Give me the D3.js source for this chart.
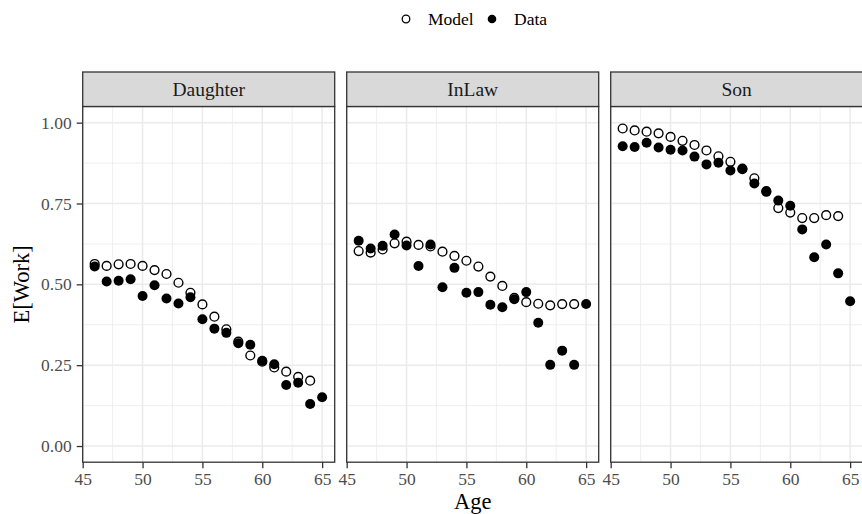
<!DOCTYPE html>
<html>
<head>
<meta charset="utf-8">
<script src="https://cdn.jsdelivr.net/npm/d3@7"></script>
<style>
  html, body { margin: 0; padding: 0; background: #ffffff; }
  svg { display: block; font-family: "Liberation Serif", "DejaVu Serif", serif; }
</style>
</head>
<body>
<svg id="chart" width="862" height="514"></svg>
<script>
// ---------------- data ----------------
const panels = ["Daughter", "InLaw", "Son"];
const ages = [46, 47, 48, 49, 50, 51, 52, 53, 54, 55, 56, 57, 58, 59, 60, 61, 62, 63, 64, 65];

const modelDaughter = [0.563, 0.557, 0.562, 0.563, 0.557, 0.544, 0.532, 0.505, 0.474, 0.438, 0.400, 0.361, 0.323, 0.280, 0.261, 0.243, 0.230, 0.214, 0.202, null];
const dataDaughter  = [0.555, 0.509, 0.511, 0.516, 0.464, 0.497, 0.456, 0.441, 0.460, 0.392, 0.363, 0.350, 0.318, 0.313, 0.264, 0.253, 0.189, 0.196, 0.130, 0.151];

const modelInLaw = [0.603, 0.598, 0.608, 0.627, 0.632, 0.622, 0.617, 0.601, 0.588, 0.573, 0.555, 0.524, 0.495, 0.458, 0.445, 0.440, 0.435, 0.439, 0.439, null];
const dataInLaw  = [0.635, 0.611, 0.619, 0.654, 0.620, 0.557, 0.623, 0.491, 0.551, 0.474, 0.476, 0.437, 0.429, 0.454, 0.476, 0.381, 0.251, 0.295, 0.251, 0.439];

const modelSon = [0.982, 0.976, 0.972, 0.967, 0.956, 0.944, 0.931, 0.914, 0.896, 0.879, 0.856, 0.828, 0.788, 0.736, 0.722, 0.705, 0.705, 0.714, 0.711, null];
const dataSon  = [0.927, 0.925, 0.938, 0.923, 0.916, 0.914, 0.895, 0.871, 0.876, 0.852, 0.858, 0.812, 0.786, 0.759, 0.743, 0.670, 0.584, 0.623, 0.534, 0.448];

const xTicks = [45, 50, 55, 60, 65];
const yTicks = [0, 0.25, 0.5, 0.75, 1];
const xMinor = [47.5, 52.5, 57.5, 62.5];
const yMinor = [0.125, 0.375, 0.625, 0.875];
const seriesNames = ["Model", "Data"];

const modelByPanel = { Daughter: modelDaughter, InLaw: modelInLaw, Son: modelSon };
const dataByPanel  = { Daughter: dataDaughter,  InLaw: dataInLaw,  Son: dataSon };

// ---------------- layout ----------------
const svg = d3.select("#chart");
const plotLeft = 82.7;
const panelW = 252;
const gap = 12;
const stripTop = 72;
const panelTop = 106.5;
const panelBottom = 462.2;
const ptR = 5;

const y = d3.scaleLinear().domain([-0.05, 1.05]).range([panelBottom, panelTop]);

const gridCol = "#EBEBEB";
const borderCol = "#333333";
const tickTextCol = "#4D4D4D";

panels.forEach((name, i) => {
  const x0 = plotLeft + i * (panelW + gap);
  const x = d3.scaleLinear().domain([45, 66.05]).range([x0, x0 + panelW]);
  const g = svg.append("g");

  g.append("rect").attr("x", x0).attr("y", panelTop).attr("width", panelW)
    .attr("height", panelBottom - panelTop).attr("fill", "#ffffff");

  // minor grid
  g.selectAll(".vminor").data(xMinor).enter().append("line")
    .attr("x1", d => x(d)).attr("x2", d => x(d)).attr("y1", panelTop).attr("y2", panelBottom)
    .attr("stroke", gridCol).attr("stroke-width", 0.8);
  g.selectAll(".hminor").data(yMinor).enter().append("line")
    .attr("x1", x0).attr("x2", x0 + panelW).attr("y1", d => y(d)).attr("y2", d => y(d))
    .attr("stroke", gridCol).attr("stroke-width", 0.8);
  // major grid
  g.selectAll(".vmajor").data(xTicks).enter().append("line")
    .attr("x1", d => x(d)).attr("x2", d => x(d)).attr("y1", panelTop).attr("y2", panelBottom)
    .attr("stroke", gridCol).attr("stroke-width", 1.5);
  g.selectAll(".hmajor").data(yTicks).enter().append("line")
    .attr("x1", x0).attr("x2", x0 + panelW).attr("y1", d => y(d)).attr("y2", d => y(d))
    .attr("stroke", gridCol).attr("stroke-width", 1.5);

  const model = ages.map((a, k) => ({ age: a, v: modelByPanel[name][k] })).filter(d => d.v != null);
  const data = ages.map((a, k) => ({ age: a, v: dataByPanel[name][k] })).filter(d => d.v != null);

  g.selectAll(".model").data(model).enter().append("circle")
    .attr("cx", d => x(d.age)).attr("cy", d => y(d.v)).attr("r", ptR - 0.6)
    .attr("fill", "none").attr("stroke", "#000").attr("stroke-width", 1.4);
  g.selectAll(".data").data(data).enter().append("circle")
    .attr("cx", d => x(d.age)).attr("cy", d => y(d.v)).attr("r", ptR)
    .attr("fill", "#000");

  g.append("rect").attr("x", x0).attr("y", panelTop).attr("width", panelW)
    .attr("height", panelBottom - panelTop).attr("fill", "none")
    .attr("stroke", borderCol).attr("stroke-width", 1.3);

  // strip
  g.append("rect").attr("x", x0).attr("y", stripTop).attr("width", panelW)
    .attr("height", panelTop - stripTop).attr("fill", "#D9D9D9")
    .attr("stroke", borderCol).attr("stroke-width", 1.3);
  g.append("text").attr("x", x0 + panelW / 2).attr("y", (stripTop + panelTop) / 2)
    .attr("dy", "0.35em").attr("text-anchor", "middle")
    .attr("font-size", 19.5).attr("fill", "#1A1A1A").text(name);

  // x axis
  const xa = g.append("g").attr("transform", `translate(0,${panelBottom})`)
    .call(d3.axisBottom(x).tickValues(xTicks).tickSize(6).tickPadding(4).tickFormat(d3.format("d")));
  xa.select(".domain").remove();
  xa.selectAll(".tick line").attr("stroke", borderCol).attr("stroke-width", 1.3);
  xa.selectAll(".tick text").attr("fill", tickTextCol).attr("font-size", 17.5)
    .attr("font-family", "Liberation Serif");

  if (i === 0) {
    const ya = g.append("g").attr("transform", `translate(${x0},0)`)
      .call(d3.axisLeft(y).tickValues(yTicks).tickSize(6).tickPadding(5).tickFormat(d3.format(".2f")));
    ya.select(".domain").remove();
    ya.selectAll(".tick line").attr("stroke", borderCol).attr("stroke-width", 1.3);
    ya.selectAll(".tick text").attr("fill", tickTextCol).attr("font-size", 17.5)
      .attr("font-family", "Liberation Serif");
  }
});

// axis titles
const plotRight = plotLeft + 3 * panelW + 2 * gap;
svg.append("text").attr("x", (plotLeft + plotRight) / 2).attr("y", 509)
  .attr("text-anchor", "middle").attr("font-size", 22.5).attr("fill", "#000").text("Age");
svg.append("text").attr("transform", `translate(29,${(panelTop + panelBottom) / 2}) rotate(-90)`)
  .attr("text-anchor", "middle").attr("font-size", 22.5).attr("fill", "#000").text("E[Work]");

// legend
const legendY = 19;
const legendX = [406, 492];
const leg = svg.append("g");
seriesNames.forEach((s, k) => {
  if (s === "Model") {
    leg.append("circle").attr("cx", legendX[k]).attr("cy", legendY).attr("r", 3.8)
      .attr("fill", "none").attr("stroke", "#000").attr("stroke-width", 1.3);
  } else {
    leg.append("circle").attr("cx", legendX[k]).attr("cy", legendY).attr("r", 4.3)
      .attr("fill", "#000");
  }
  leg.append("text").attr("x", legendX[k] + 22).attr("y", legendY).attr("dy", "0.35em")
    .attr("font-size", 17.5).attr("fill", "#000").text(s);
});
</script>
</body>
</html>
